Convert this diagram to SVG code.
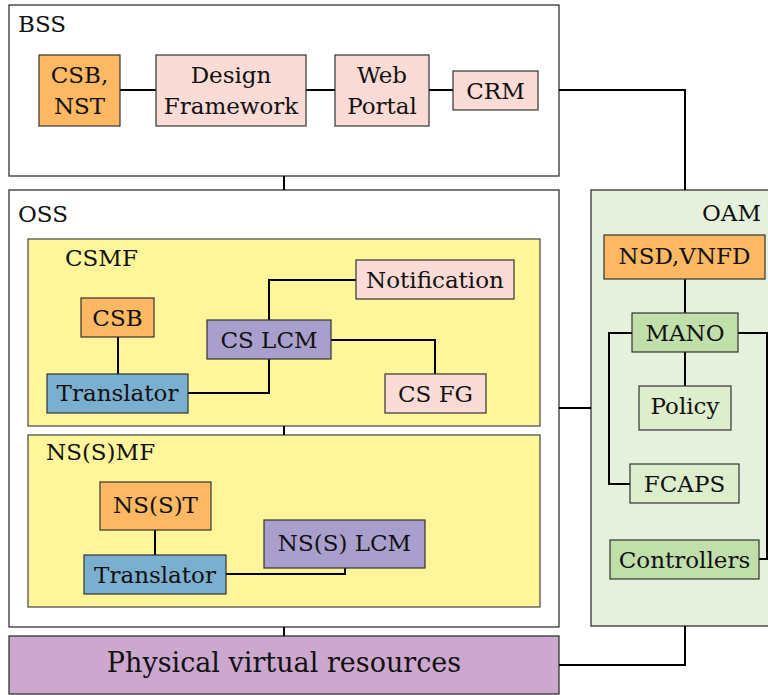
<svg xmlns="http://www.w3.org/2000/svg" width="768" height="695" viewBox="0 0 768 695">
<style>
text{font-family:'DejaVu Serif','Liberation Serif',serif;font-size:23px;fill:#111}
.c{text-anchor:middle}
.cont{fill:#fff;stroke:#333;stroke-width:1.3}
.b{stroke:#333;stroke-width:1.2}
.or{fill:#fdb863}
.pk{fill:#fbdbd5}
.pu{fill:#a99fcc}
.bl{fill:#7aafd0}
.ye{fill:#fff59a;stroke:#444;stroke-width:1.2}
.gd{fill:#c0dfaa}
.gl{fill:#ddeecd}
#connectors path{fill:none;stroke:#000;stroke-width:2}
</style>
<rect width="768" height="695" fill="#fff"/>
<g id="BSS"><rect class="cont" x="9" y="5" width="550" height="171"/><text x="18" y="32">BSS</text></g>
<g id="OSS"><rect class="cont" x="9" y="190" width="550" height="437"/><text x="18" y="222">OSS</text></g>
<g id="OAM"><rect x="591" y="190" width="200" height="436" fill="#e5f1dc" stroke="#333" stroke-width="1.3"/><text x="761" y="221" text-anchor="end">OAM</text></g>
<g id="CSMF"><rect class="ye" x="28" y="239" width="512" height="187"/><text x="65" y="266">CSMF</text></g>
<g id="NSSMF"><rect class="ye" x="28" y="435" width="512" height="172"/><text x="46" y="460">NS(S)MF</text></g>
<g id="PVR"><rect x="9" y="636" width="550" height="58" fill="#cca8cf" stroke="#333" stroke-width="1.3"/><text class="c" x="284" y="672" style="font-size:27px">Physical virtual resources</text></g>

<g id="connectors">
<path d="M120 90H156M306 90H335M429 90H453"/>
<path d="M284 176V190"/>
<path d="M559 90H685V190"/>
<path d="M118 337V374"/>
<path d="M188 393H269V359"/>
<path d="M269 320V280H356"/>
<path d="M331 340H435V374"/>
<path d="M284 426V435"/>
<path d="M155 530V555"/>
<path d="M226 574H345V568"/>
<path d="M284 627V636"/>
<path d="M559 408H591"/>
<path d="M685 626V665H559"/>
<path d="M685 279V313"/>
<path d="M685 352V386"/>
<path d="M632 333H609V484H630"/>
<path d="M738 333H767V559H759"/>
</g>

<g id="CSB_NST"><rect class="b or" x="39" y="55" width="81" height="71"/><text class="c" x="79.5" y="83">CSB,</text><text class="c" x="79.5" y="114">NST</text></g>
<g id="DesignFramework"><rect class="b pk" x="156" y="55" width="150" height="71"/><text class="c" x="231" y="83">Design</text><text class="c" x="231" y="114">Framework</text></g>
<g id="WebPortal"><rect class="b pk" x="335" y="55" width="94" height="71"/><text class="c" x="382" y="83">Web</text><text class="c" x="382" y="114">Portal</text></g>
<g id="CRM"><rect class="b pk" x="453" y="71" width="85" height="39"/><text class="c" x="495.5" y="99">CRM</text></g>

<g id="Notification"><rect class="b pk" x="356" y="260" width="158" height="39"/><text class="c" x="435" y="288">Notification</text></g>
<g id="CSB"><rect class="b or" x="81" y="298" width="73" height="39"/><text class="c" x="117.5" y="326">CSB</text></g>
<g id="CSLCM"><rect class="b pu" x="207" y="320" width="124" height="39"/><text class="c" x="269" y="348">CS LCM</text></g>
<g id="Translator1"><rect class="b bl" x="47" y="374" width="141" height="39"/><text class="c" x="117.5" y="401">Translator</text></g>
<g id="CSFG"><rect class="b pk" x="385" y="374" width="101" height="39"/><text class="c" x="435.5" y="402">CS FG</text></g>

<g id="NSST"><rect class="b or" x="100" y="482" width="111" height="48"/><text class="c" x="155.5" y="513">NS(S)T</text></g>
<g id="NSSLCM"><rect class="b pu" x="264" y="520" width="161" height="48"/><text class="c" x="344.5" y="551">NS(S) LCM</text></g>
<g id="Translator2"><rect class="b bl" x="84" y="555" width="142" height="39"/><text class="c" x="155" y="583">Translator</text></g>

<g id="NSD_VNFD"><rect class="b or" x="604" y="235" width="161" height="44"/><text class="c" x="684.5" y="264">NSD,VNFD</text></g>
<g id="MANO"><rect class="b gd" x="632" y="313" width="106" height="39"/><text class="c" x="685" y="341">MANO</text></g>
<g id="Policy"><rect class="b gl" x="639" y="386" width="92" height="44"/><text class="c" x="685" y="414">Policy</text></g>
<g id="FCAPS"><rect class="b gl" x="630" y="464" width="109" height="39"/><text class="c" x="684.5" y="492">FCAPS</text></g>
<g id="Controllers"><rect class="b gd" x="610" y="540" width="149" height="39"/><text class="c" x="684.5" y="568">Controllers</text></g>
</svg>
